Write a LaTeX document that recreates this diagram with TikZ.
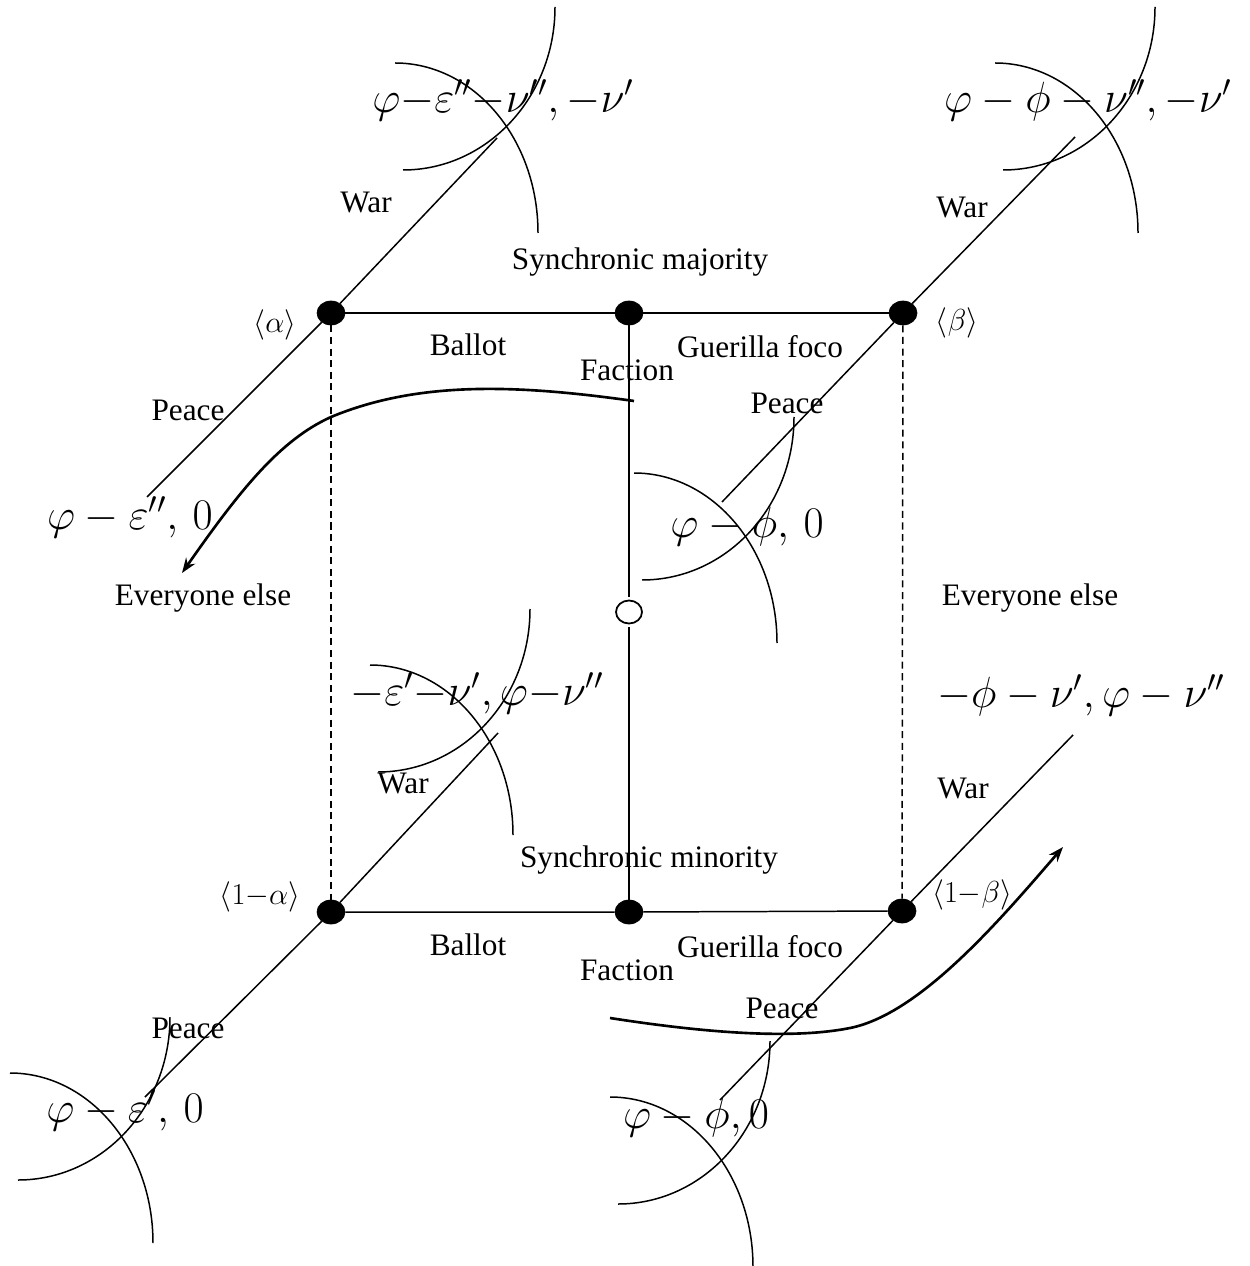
\documentclass[tikz,border=0pt]{standalone}
\usepackage{fontspec}
\setmainfont{Liberation Serif}
\usetikzlibrary{arrows.meta,shapes.geometric}

\begin{document}
\begin{tikzpicture}[x=0.02cm,y=-0.02cm,
  every node/.style={font=\fontsize{17.8}{20}\selectfont},
  choice/.style={ellipse,draw,fill,minimum width=0.56cm,minimum height=0.48cm,inner sep=0pt},
  chance/.style={ellipse,draw,fill=white,line width=1pt,minimum width=0.52cm,minimum height=0.46cm,inner sep=0pt,outer sep=0.07cm},
  branch/.style={line width=0.85pt},
  info/.style={line width=0.85pt,dash pattern=on 4pt off 2.6pt},
  sweep/.style={line width=1.5pt,-{Stealth[length=0.3cm,width=0.22cm]}},
  payoff/.style={font=\fontsize{23}{26}\selectfont},
  crossarcs/.pic={
    \draw[branch] (0,0) .. controls (79,0) and (143,76) .. (143,170);
    \draw[branch] (160,-56) .. controls (160,34) and (92,107) .. (8,107);
  }]
\useasboundingbox (0,0) rectangle (1249,1266);

% Decision nodes
\node[choice] (al) at (331,313) {};
\node[choice] (sm) at (629,313) {};
\node[choice] (be) at (903,313) {};
\node[chance] (nat) at (629,612) {};
\node[choice] (al2) at (331,912) {};
\node[choice] (sm2) at (629,912) {};
\node[choice] (be2) at (902,911) {};

% Ends of the war and peace branches
\coordinate (alW) at (497,138);
\coordinate (alP) at (147,497);
\coordinate (beW) at (1075,137);
\coordinate (beP) at (722,502);
\coordinate (al2W) at (498,733);
\coordinate (al2P) at (145,1097);
\coordinate (be2W) at (1073,735);
\coordinate (be2P) at (720,1100);

% Branches
\draw[branch] (al) -- (sm) -- (be);
\draw[branch] (al2) -- (sm2) -- (be2);
\draw[branch] (sm) -- (nat) -- (sm2);
\draw[info] (al) -- (al2);
\draw[info] (be) -- (be2);
\draw[branch] (alP) -- (al) -- (alW);
\draw[branch] (beP) -- (be) -- (beW);
\draw[branch] (al2P) -- (al2) -- (al2W);
\draw[branch] (be2P) -- (be2) -- (be2W);

% Crossed arcs at the outcomes
\pic at (395,63) {crossarcs};
\pic at (995,63) {crossarcs};
\pic at (634,473) {crossarcs};
\pic at (370,665) {crossarcs};
\pic at (10,1073) {crossarcs};
\pic at (610,1097) {crossarcs};

% Sweeping arrows
\coordinate (s1) at (634,401);
\coordinate (t1) at (182,573);
\coordinate (s2) at (610,1018);
\coordinate (t2) at (1063,847);
\draw[sweep] (s1) .. controls (520,385) and (420,380) .. (331,417)
  .. controls (280,440) and (240,490) .. (t1);
\draw[sweep] (s2) .. controls (700,1032) and (790,1040) .. (850,1028)
  .. controls (920,1014) and (1000,920) .. (t2);

% Payoffs
\node[payoff] (o1) at (503,100) {$\varphi{-}\varepsilon''{-}\nu'',{-}\nu'$};
\node[payoff] (o2) at (1088,100) {$\varphi-\phi-\nu'',-\nu'$};
\node[payoff] (o3) at (130,517) {$\varphi-\varepsilon'',\,0$};
\node[payoff] (o4) at (747,527) {$\varphi-\phi,\,0$};
\node[payoff] (o5) at (477,693) {$-\varepsilon'{-}\nu',\varphi{-}\nu''$};
\node[payoff] (o6) at (1081,695) {$-\phi-\nu',\varphi-\nu''$};
\node[payoff] (o7) at (125,1110) {$\varphi-\varepsilon',\,0$};
\node[payoff] (o8) at (696,1118) {$\varphi-\phi,0$};

% Labels
\node (war1) at (366,203) {War};
\node (war2) at (962,208) {War};
\node (war3) at (403,783) {War};
\node (war4) at (963,788) {War};
\node (maj) at (640,262) {Synchronic majority};
\node (min) at (649,860) {Synchronic minority};
\node (la) at (275,325) {$\langle\alpha\rangle$};
\node (lb) at (957,323) {$\langle\beta\rangle$};
\node (la2) at (260,897) {$\langle 1{-}\alpha\rangle$};
\node (lb2) at (972,895) {$\langle 1{-}\beta\rangle$};
\node (bal1) at (468,345) {Ballot};
\node (bal2) at (468,945) {Ballot};
\node (gue1) at (760,347) {Guerilla foco};
\node (gue2) at (760,947) {Guerilla foco};
\node (fac1) at (627,370) {Faction};
\node (fac2) at (627,970) {Faction};
\node (pea1) at (188,410) {Peace};
\node (pea2) at (787,403) {Peace};
\node (pea3) at (188,1028) {Peace};
\node (pea4) at (782,1008) {Peace};
\node (ev1) at (203,598) {Everyone else};
\node (ev2) at (1030,598) {Everyone else};

\end{tikzpicture}
\end{document}
